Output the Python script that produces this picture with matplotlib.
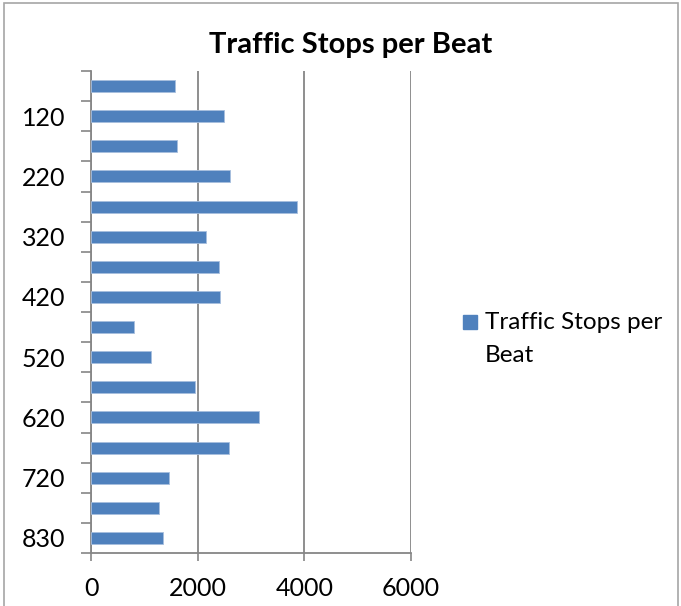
import matplotlib
matplotlib.use('Agg')
import matplotlib.pyplot as plt
from matplotlib.patches import Rectangle

plt.rcParams['font.family'] = ['Lato', 'DejaVu Sans']

# beats from bottom to top; only every other one gets a label on the axis
beats = ['830', '810', '720', '710', '620', '610', '520', '510',
         '420', '410', '320', '310', '220', '210', '120', '110']
stops = [1344, 1281, 1462, 2581, 3156, 1950, 1131, 812,
         2427, 2408, 2164, 3870, 2608, 1620, 2495, 1575]
shown_labels = [b if i % 2 == 0 else '' for i, b in enumerate(beats)]
x_ticks = [0, 2000, 4000, 6000]

BAR_COLOR = '#4F81BD'
GRID_COLOR = '#868686'

W, H = 681, 606
fig = plt.figure(figsize=(W / 100, H / 100), dpi=100)

# outer chart border
fig.patches.append(Rectangle((4 / W, -0.01), 674 / W, 1 - 3 / H + 0.01,
                             transform=fig.transFigure, fill=False,
                             edgecolor='#A6A6A6', linewidth=1.2))

ax = fig.add_axes([91 / W, 1 - 553 / H, 320 / W, 482 / H])

pos = list(range(len(beats)))
ax.barh(pos, stops, height=0.4, color=BAR_COLOR, edgecolor='#A7BEDD',
        linewidth=0.6, zorder=3)

ax.set_xlim(0, 6000)
ax.set_ylim(-0.5, len(beats) - 0.5)

ax.set_xticks(x_ticks)
ax.set_xticklabels([str(t) for t in x_ticks], fontsize=18)
ax.tick_params(axis='x', direction='out', length=6, width=1.2,
               color=GRID_COLOR, pad=11)

# tick marks on category boundaries, labels on category centres
ax.set_yticks([p - 0.5 for p in pos] + [len(beats) - 0.5])
ax.set_yticklabels([])
ax.set_yticks(pos, minor=True)
ax.set_yticklabels(shown_labels, minor=True, fontsize=18)
ax.tick_params(axis='y', which='major', direction='out', length=7,
               width=1.2, color=GRID_COLOR)
ax.tick_params(axis='y', which='minor', length=0, pad=18.5)

ax.grid(axis='x', color=GRID_COLOR, linewidth=1.3, zorder=0)
for side in ['top', 'right']:
    ax.spines[side].set_visible(False)
for side in ['left', 'bottom']:
    ax.spines[side].set_color(GRID_COLOR)
    ax.spines[side].set_linewidth(1.3)

fig.text(351 / W, 1 - 45 / H, 'Traffic Stops per Beat', fontsize=21,
         fontweight='bold', ha='center', va='center')

# legend drawn by hand so the key sits next to the first line
fig.patches.append(Rectangle((463 / W, 1 - 329 / H), 14 / W, 14 / H,
                             transform=fig.transFigure, color=BAR_COLOR))
fig.text(485 / W, 1 - 329 / H, 'Traffic Stops per', fontsize=17.5,
         ha='left', va='baseline')
fig.text(485 / W, 1 - 362 / H, 'Beat', fontsize=17.5, ha='left', va='baseline')

fig.savefig('out.png', dpi=100)
